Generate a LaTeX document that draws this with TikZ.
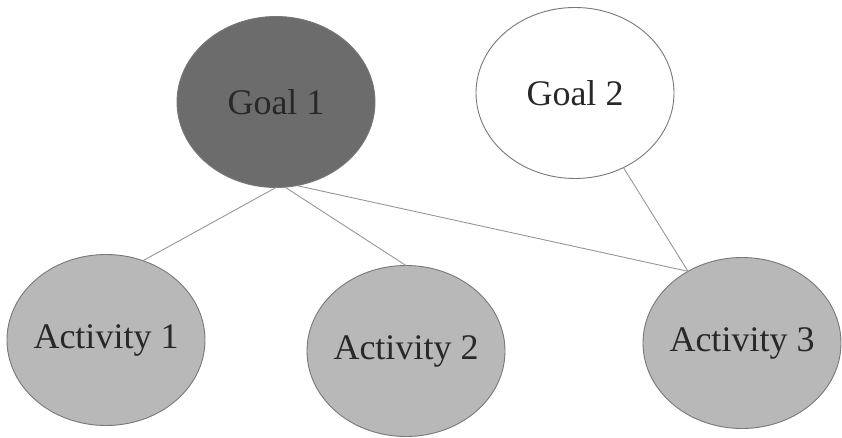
\documentclass[tikz,border=0pt]{standalone}
\usepackage{fontspec}
\setmainfont{Liberation Serif}
\usetikzlibrary{shapes.geometric}
\definecolor{rimgray}{RGB}{120,120,120}
\definecolor{linkgray}{RGB}{150,150,150}
\definecolor{goaldark}{RGB}{108,108,108}
\definecolor{actlight}{RGB}{184,184,184}
\definecolor{inkgray}{RGB}{40,40,40}
\tikzset{
  bubble/.style={ellipse, draw=rimgray, line width=0.9pt, inner sep=0pt, outer sep=0pt,
    minimum width=198pt, minimum height=171pt,
    label={[font=\fontsize{36}{40}\selectfont, text=inkgray, inner sep=0pt]center:#1}},
  goalA/.style={bubble=#1, fill=goaldark},
  goalB/.style={bubble=#1, fill=white},
  activity/.style={bubble=#1, fill=actlight},
  link/.style={draw=linkgray, line width=0.9pt}
}
\begin{document}
\begin{tikzpicture}[x=1pt, y=-1pt]
  \useasboundingbox (0,0) rectangle (842,438);
  % goals
  \node[goalA={Goal 1}] (g1) at (276,102) {};
  \node[goalB={Goal 2}] (g2) at (575,93) {};
  % activities
  \node[activity={Activity 1}] (a1) at (106,340) {};
  \node[activity={Activity 2}] (a2) at (406,351) {};
  \node[activity={Activity 3}] (a3) at (742,343) {};
  % links between goals and activities
  \draw[link] (g1.270) -- (a1.65);
  \draw[link] (g1.276) -- (a2.90);
  \draw[link] (g1.284) -- (a3.127);
  \draw[link] (g2.303) -- (a3.127);
\end{tikzpicture}
\end{document}
